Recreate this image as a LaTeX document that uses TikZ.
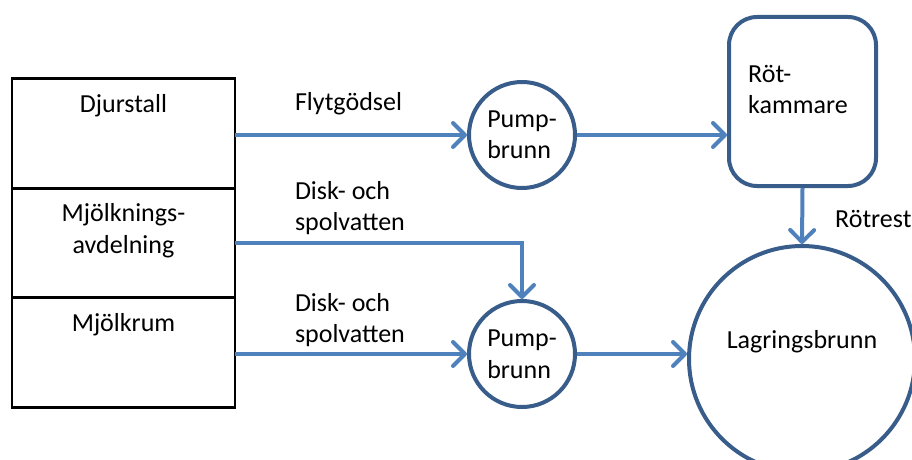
\documentclass[tikz,border=0pt]{standalone}
\usepackage{fontspec}
\setmainfont{Carlito}
\usepackage{tikz}
\usetikzlibrary{positioning,arrows.meta,calc}
\definecolor{flowblue}{HTML}{4F81BD}
\definecolor{rimblue}{HTML}{385D8A}

\begin{document}
\begin{tikzpicture}[
  x=1pt, y=1pt,
  font=\fontsize{26pt}{31.5pt}\selectfont,
  room/.style={draw, line width=2.8pt, minimum width=223pt, minimum height=109.5pt,
               inner sep=0pt, outer sep=0pt},
  roomtext/.style={anchor=north, yshift=-15pt, align=center, inner sep=0pt},
  well/.style={circle, draw=rimblue, line width=4pt, inner sep=0pt, align=left},
  tank/.style={draw=rimblue, line width=4pt, rounded corners=28pt,
               minimum width=147pt, minimum height=169pt},
  flow/.style={draw=flowblue, line width=4pt, -{Straight Barb[length=12pt, width=24pt, round]}},
  flowlabel/.style={align=left, inner sep=0pt},
]
\path[use as bounding box, clip] (0,0) rectangle (912,459);

% ===== LEFT: building =====
\node[room, label={[roomtext]north:Djurstall}] (djur) at (123.5,325.5) {};
\node[room, below=0pt of djur, label={[roomtext]north:Mjölknings-\\avdelning}] (avd) {};
\node[room, below=0pt of avd, label={[roomtext]north:Mjölkrum}] (mjolk) {};

% ===== RIGHT: wells and tank =====
\node[well, minimum size=106pt] (pump1) at (522,324) {Pump-\\brunn};
\node[well, minimum size=106pt] (pump2) at (522,105) {Pump-\\brunn};
\node[tank, label={[anchor=north west, xshift=21pt, yshift=-50pt, align=left, inner sep=0pt]north west:Röt-\\kammare}] (rot) at (802.5,357.5) {};
\node[well, minimum size=226pt, label={[yshift=17pt]center:Lagringsbrunn}] (lag) at (802,100) {};

\draw[flow] (djur.east |- pump1) -- node[flowlabel, pos=0, anchor=south west, xshift=58pt, yshift=18pt]{Flytgödsel} (pump1.west);
\draw[flow] (avd.east) -| node[flowlabel, pos=0, anchor=south west, xshift=58pt, yshift=6pt]{Disk- och\\spolvatten} (pump2.north);
\draw[flow] (mjolk.east |- pump2) -- node[flowlabel, pos=0, anchor=south west, xshift=58pt, yshift=5pt]{Disk- och\\spolvatten} (pump2.west);
\draw[flow] (pump1.east) -- (pump1.east -| rot.west);
\draw[flow] (rot.south) -- node[flowlabel, pos=0.55, anchor=west, xshift=31pt]{Rötrest} (lag.north);
\draw[flow] (pump2.east) -- (pump2.east -| lag.west);
\end{tikzpicture}
\end{document}
